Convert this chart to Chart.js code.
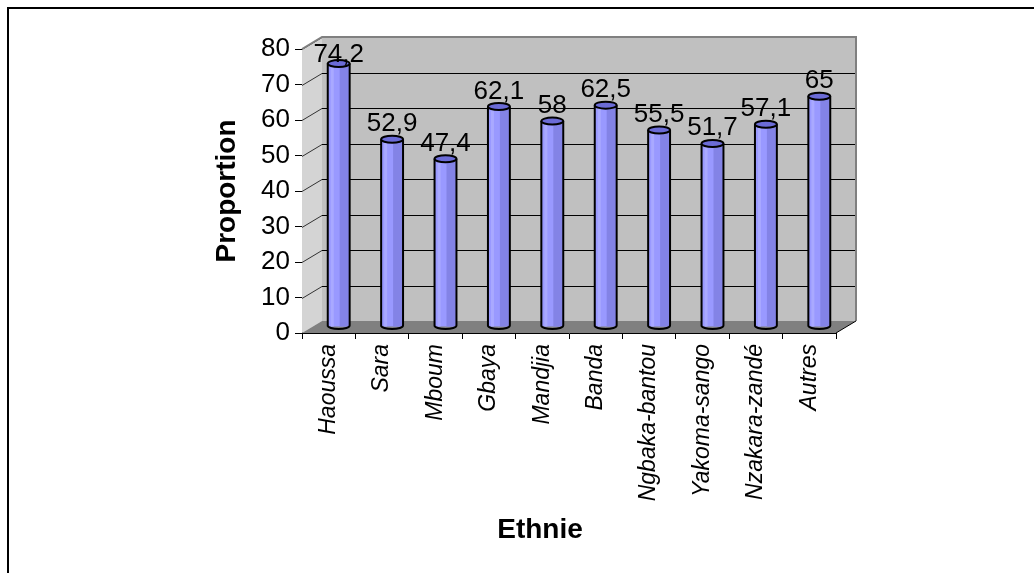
<!DOCTYPE html>
<html>
<head>
<meta charset="utf-8">
<script src="https://cdn.jsdelivr.net/npm/chart.js@4/dist/chart.umd.min.js"></script>
<style>
    html, body { margin: 0; padding: 0; background: #fff; }
    #wrap { position: relative; width: 1034px; height: 573px; }
</style>
</head>
<body>
<div id="wrap"><canvas id="ethnie-chart" width="1034" height="573"></canvas></div>
<script>
const ethnies = ['Haoussa', 'Sara', 'Mboum', 'Gbaya', 'Mandjia', 'Banda', 'Ngbaka-bantou', 'Yakoma-sango', 'Nzakara-zandé', 'Autres'];
const proportions = [74.2, 52.9, 47.4, 62.1, 58, 62.5, 55.5, 51.7, 57.1, 65];
const yTicks = [0, 10, 20, 30, 40, 50, 60, 70, 80];

// depth offsets of the fake 3D box
const backOffset = { x: 20, y: -12 };
const barOffset = { x: 10, y: -6 };

const frame = {
    id: 'frame',
    beforeDraw: (chart) => {
        const ctx = chart.ctx;
        ctx.save();
        ctx.fillStyle = '#fff';
        ctx.fillRect(0, 0, chart.width, chart.height);
        ctx.strokeStyle = '#000';
        ctx.lineWidth = 2;
        ctx.beginPath();
        ctx.moveTo(8, chart.height);
        ctx.lineTo(8, 8);
        ctx.lineTo(chart.width, 8);
        ctx.stroke();
        ctx.restore();
    }
};

const box3d = {
    id: 'box3d',
    beforeDatasetsDraw: (chart) => {
        const ctx = chart.ctx;
        const a = chart.chartArea;
        const y = chart.scales.y;
        const dx = backOffset.x, dy = backOffset.y;
        ctx.save();
        // side wall
        ctx.fillStyle = '#d4d4d4';
        ctx.beginPath();
        ctx.moveTo(a.left, a.bottom);
        ctx.lineTo(a.left, a.top);
        ctx.lineTo(a.left + dx, a.top + dy);
        ctx.lineTo(a.left + dx, a.bottom + dy);
        ctx.closePath();
        ctx.fill();
        // back wall
        ctx.fillStyle = '#c0c0c0';
        ctx.fillRect(a.left + dx, a.top + dy, a.right - a.left, a.bottom - a.top);
        // floor
        ctx.fillStyle = '#808080';
        ctx.beginPath();
        ctx.moveTo(a.left, a.bottom);
        ctx.lineTo(a.right, a.bottom);
        ctx.lineTo(a.right + dx, a.bottom + dy);
        ctx.lineTo(a.left + dx, a.bottom + dy);
        ctx.closePath();
        ctx.fill();
        // grid lines
        ctx.lineWidth = 1;
        yTicks.forEach(v => {
            const py = Math.round(y.getPixelForValue(v)) + 0.5;
            if (v > 0 && v < 80) {
                ctx.strokeStyle = '#000';
                ctx.beginPath();
                ctx.moveTo(a.left + dx, py + dy);
                ctx.lineTo(a.right + dx, py + dy);
                ctx.stroke();
            }
            if (v > 0) {
                ctx.strokeStyle = '#333';
                ctx.beginPath();
                ctx.moveTo(a.left, py);
                ctx.lineTo(a.left + dx, py + dy);
                ctx.stroke();
            }
        });
        // wall edges
        ctx.strokeStyle = '#808080';
        ctx.lineWidth = 2;
        ctx.beginPath();
        ctx.moveTo(a.left, a.top);
        ctx.lineTo(a.left + dx, a.top + dy);
        ctx.lineTo(a.right + dx, a.top + dy);
        ctx.lineTo(a.right + dx, a.bottom + dy);
        ctx.stroke();
        ctx.strokeStyle = '#000';
        ctx.lineWidth = 1;
        ctx.beginPath();
        ctx.moveTo(a.right, a.bottom);
        ctx.lineTo(a.right + dx, a.bottom + dy);
        ctx.stroke();
        ctx.restore();

        ctx.save();
        ctx.translate(barOffset.x, barOffset.y);
    },
    afterDatasetsDraw: (chart) => {
        const ctx = chart.ctx;
        const meta = chart.getDatasetMeta(0);
        meta.data.forEach((bar, i) => {
            const w = bar.width;
            const left = bar.x - w / 2;
            const ry = 3.5;
            // darker right side of the cylinder
            ctx.fillStyle = '#8383e6';
            ctx.fillRect(bar.x + 1, bar.y, w / 2 - 2, bar.base - bar.y);
            ctx.fillStyle = '#a9a9ff';
            ctx.fillRect(left + 3, bar.y, 3, bar.base - bar.y);
            // outline
            ctx.strokeStyle = '#000';
            ctx.lineWidth = 2;
            ctx.beginPath();
            ctx.moveTo(left, bar.y);
            ctx.lineTo(left, bar.base);
            ctx.ellipse(bar.x, bar.base - 1, w / 2, ry, 0, Math.PI, 0, true);
            ctx.lineTo(left + w, bar.y);
            ctx.stroke();
            // top ellipse
            ctx.fillStyle = '#6b6bd6';
            ctx.beginPath();
            ctx.ellipse(bar.x, bar.y, w / 2, ry, 0, 0, Math.PI * 2);
            ctx.fill();
            ctx.stroke();
        });
        // value labels
        ctx.fillStyle = '#000';
        ctx.font = '26px Arial, "Liberation Sans", sans-serif';
        ctx.textAlign = 'center';
        ctx.textBaseline = 'alphabetic';
        meta.data.forEach((bar, i) => {
            const txt = String(proportions[i]).replace('.', ',');
            const by = Math.max(bar.y - 8, chart.chartArea.top + 19);
            ctx.fillText(txt, bar.x, by);
        });
        ctx.restore();
    },
    afterDraw: (chart) => {
        const ctx = chart.ctx;
        const a = chart.chartArea;
        ctx.save();
        ctx.fillStyle = '#000';
        ctx.font = 'bold 28px Arial, "Liberation Sans", sans-serif';
        ctx.textAlign = 'center';
        ctx.textBaseline = 'middle';
        ctx.fillText('Ethnie', 540, 530);
        ctx.restore();
    }
};

const ctx = document.getElementById('ethnie-chart').getContext('2d');
new Chart(ctx, {
    type: 'bar',
    data: {
        labels: ethnies,
        datasets: [{
            label: 'Proportion',
            data: proportions,
            backgroundColor: '#9999ff',
            borderWidth: 0,
            barPercentage: 0.82,
            categoryPercentage: 0.5
        }]
    },
    options: {
        responsive: false,
        animation: false,
        events: [],
        layout: {
            padding: { left: 0, top: 49, right: 198, bottom: 0 }
        },
        plugins: {
            legend: { display: false },
            tooltip: { enabled: false }
        },
        scales: {
            x: {
                type: 'category',
                afterFit: (scale) => { scale.height = 240; },
                grid: {
                    offset: true,
                    drawOnChartArea: false,
                    drawTicks: true,
                    tickLength: 6,
                    color: '#000'
                },
                border: { display: true, color: '#000', width: 1 },
                ticks: {
                    autoSkip: false,
                    minRotation: 90,
                    maxRotation: 90,
                    padding: 5,
                    color: '#000',
                    font: { family: 'Arial, "Liberation Sans", sans-serif', size: 23, style: 'italic' }
                }
            },
            y: {
                min: 0,
                max: 80,
                afterFit: (scale) => { scale.width = 302; },
                grid: {
                    drawOnChartArea: false,
                    drawTicks: true,
                    tickLength: 7,
                    color: '#000'
                },
                border: { display: true, color: '#000', width: 1 },
                ticks: {
                    stepSize: 10,
                    padding: 5,
                    color: '#000',
                    font: { family: 'Arial, "Liberation Sans", sans-serif', size: 26 }
                },
                title: {
                    display: true,
                    text: 'Proportion',
                    color: '#000',
                    padding: { top: 210, bottom: 0 },
                    font: { family: 'Arial, "Liberation Sans", sans-serif', size: 28, weight: 'bold' }
                }
            }
        }
    },
    plugins: [frame, box3d]
});
</script>
</body>
</html>
